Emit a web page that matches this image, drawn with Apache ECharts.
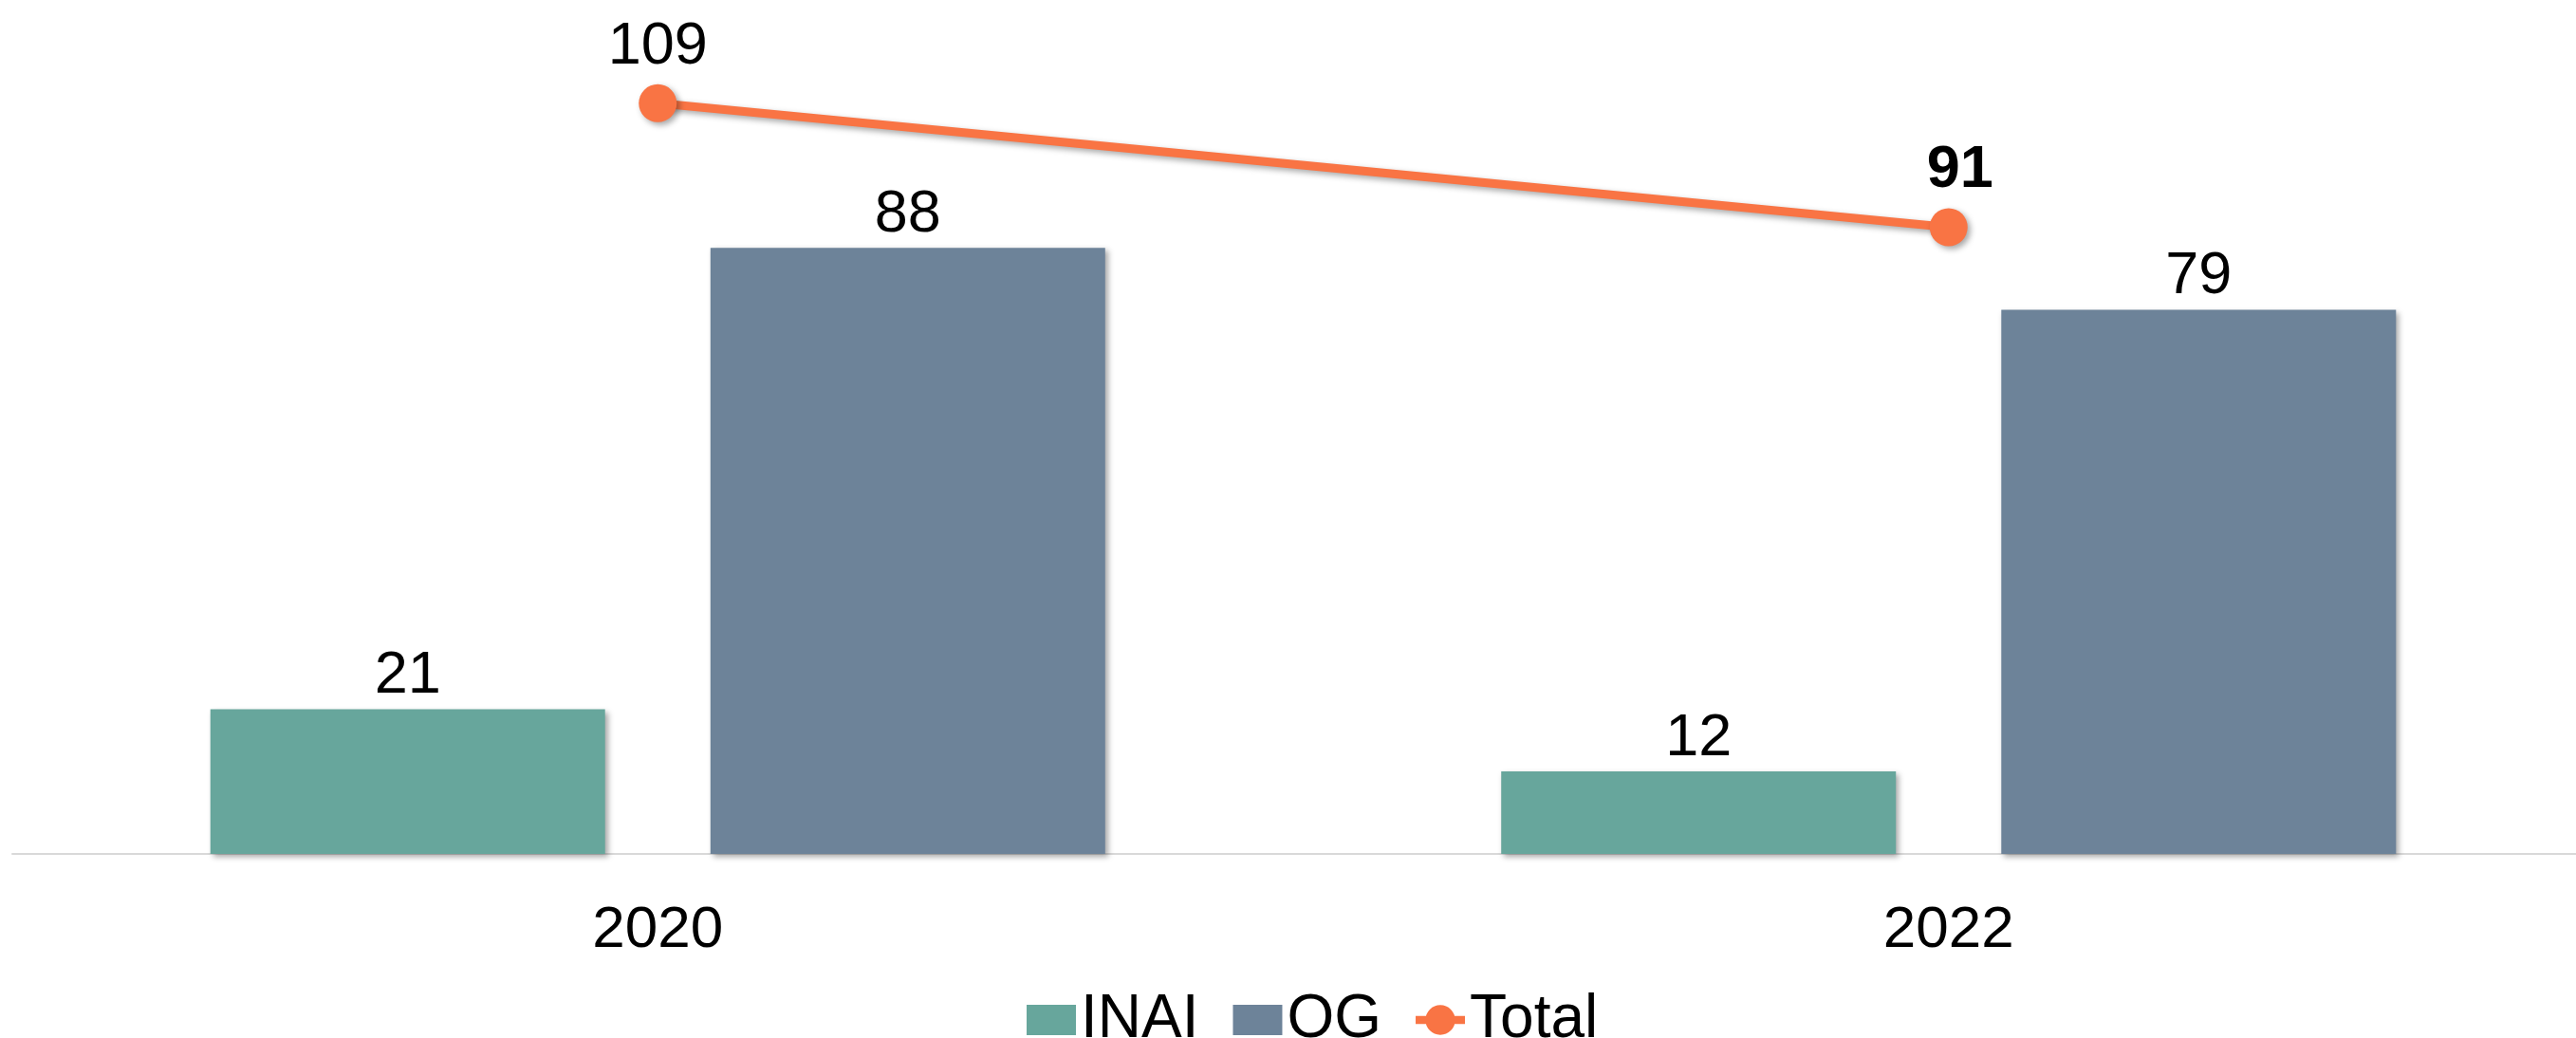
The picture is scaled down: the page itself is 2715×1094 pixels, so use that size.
<!DOCTYPE html>
<html>
<head>
<meta charset="utf-8">
<script src="https://cdn.jsdelivr.net/npm/echarts@6/dist/echarts.min.js"></script>
<style>
  html, body { margin: 0; padding: 0; background: #fff; overflow: hidden; }
  #chart { width: 2740px; height: 1094px; }
</style>
</head>
<body>
<div id="chart"></div>
<script>
  const years = ['2020', '2022'];
  const inai = [21, 12];
  const og = [88, 79];
  const total = [109, 91];

  const myChart = echarts.init(document.getElementById('chart'));
  const shadow = {
    shadowColor: 'rgba(0,0,0,0.35)',
    shadowBlur: 6,
    shadowOffsetX: 3,
    shadowOffsetY: 3
  };
  const font = 'Liberation Sans, Arial, sans-serif';
  // line + dot marker for the legend
  const lineDot = 'path://M0,14 L63,14 L63,24 L0,24 Z M12.5,19 A19,19 0 1 1 50.5,19 A19,19 0 1 1 12.5,19 Z';

  let option = {
    animation: false,
    textStyle: { fontFamily: font },
    grid: {
      left: 13,
      width: 2721,
      top: 29,
      bottom: 194
    },
    legend: {
      left: 1077,
      top: 1038,
      itemWidth: 52,
      itemHeight: 32,
      itemGap: 36,
      textStyle: { fontSize: 64, color: '#000', fontFamily: font },
      data: [
        { name: 'INAI', icon: 'rect' },
        { name: 'OG', icon: 'rect' },
        { name: 'Total', icon: lineDot }
      ]
    },
    xAxis: {
      type: 'category',
      data: years,
      axisTick: { show: false },
      axisLine: { lineStyle: { color: '#d9d9d9', width: 2 } },
      axisLabel: { fontSize: 62, color: '#000', margin: 50, fontFamily: font }
    },
    yAxis: {
      type: 'value',
      min: 0,
      max: 120,
      show: false,
      splitLine: { show: false }
    },
    series: [
      {
        name: 'INAI',
        type: 'bar',
        barWidth: 416,
        barGap: '26.7%',
        data: inai,
        itemStyle: Object.assign({ color: '#67a69c' }, shadow),
        label: { show: true, position: 'top', distance: 3, fontSize: 63, color: '#000', fontFamily: font }
      },
      {
        name: 'OG',
        type: 'bar',
        barWidth: 416,
        barGap: '26.7%',
        data: og,
        itemStyle: Object.assign({ color: '#6d8399' }, shadow),
        label: { show: true, position: 'top', distance: 3, fontSize: 63, color: '#000', fontFamily: font }
      },
      {
        name: 'Total',
        type: 'line',
        data: total.map((v, i) => i === total.length - 1
          ? { value: v, label: { fontWeight: 'bold', offset: [12, 0] } }
          : v),
        symbol: 'circle',
        symbolSize: 40,
        z: 5,
        lineStyle: Object.assign({ color: '#f97444', width: 9 }, shadow),
        itemStyle: Object.assign({ color: '#f97444' }, shadow),
        label: { show: true, position: 'top', distance: 8, fontSize: 63, color: '#000', fontFamily: font }
      }
    ]
  };
  myChart.setOption(option);
</script>
</body>
</html>
